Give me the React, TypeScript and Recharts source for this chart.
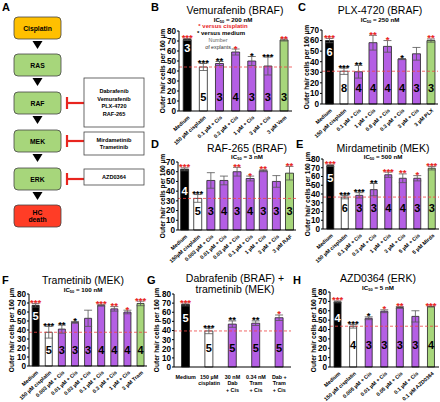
import React from 'react';
import { BarChart, Bar, XAxis, YAxis, ErrorBar, Cell, LabelList, ReferenceLine } from 'recharts';

const FONT = '"Liberation Sans", Arial, sans-serif';
const PURPLE = '#b45fe4';
const GREEN = '#a7d67b';
const RED = '#e8251f';

// B - Vemurafenib
const vemLabels = ['Medium', '150 µM cisplatin', '0.1 µM + Cis', '0.3 µM + Cis', '1 µM + Cis', '3 µM + Cis', '3 µM Vem'];
const vemMeans = [71.5, 44, 47.5, 59, 50, 45, 71];
const vemErr = [1, 3.5, 2, 3, 4.5, 9, 1];
const vemN = [3, 5, 3, 4, 3, 3, 3];
const vemStars = ['***', '***', '**', '*', '*', '***', '**'];
const vemVsCis = [true, false, false, true, false, false, true];

// C - PLX-4720
const plxLabels = ['Medium', '150 µM cisplatin', '0.1 µM + Cis', '1 µM + Cis', '0.6 µM + Cis', '0.3 µM + Cis', '3 µM + Cis', '3 µM PLX'];
const plxMeans = [60, 31, 30.5, 58, 54.5, 42.5, 47.5, 60];
const plxErr = [2, 3, 6, 7, 5.5, 0.5, 6, 1.5];
const plxN = [6, 8, 4, 4, 4, 4, 3, 3];
const plxStars = ['***', '***', '**', '**', '*', '*', '', '**'];
const plxVsCis = [true, false, false, true, true, false, false, true];

// D - RAF-265
const rafLabels = ['Medium', '150µM cisplatin', '0.003 µM + Cis', '0.01 µM + Cis', '0.03 µM + Cis', '0.1 µM + Cis', '1 µM + Cis', '3 µM + Cis', '3 µM RAF'];
const rafMeans = [62.5, 32.5, 51, 51, 60, 53, 61, 50, 58.5];
const rafErr = [1.5, 4, 8, 4.5, 4.5, 2.5, 1, 6, 7];
const rafN = [4, 5, 3, 4, 3, 4, 3, 3, 3];
const rafStars = ['***', '***', '', '', '**', '*', '**', '', '**'];
const rafVsCis = [true, false, false, false, true, true, true, false, true];

// E - Mirdametinib
const mirLabels = ['Medium', '150 µM cisplatin', '0.1 µM + Cis', '0.3 µM + Cis', '1 µM + Cis', '3 µM + Cis', '5 µM + Cis', '5 µM Mirda'];
const mirMeans = [72.5, 36.5, 38.5, 45, 62, 58, 58, 69.5];
const mirErr = [1, 2, 3, 7, 3, 5, 3, 2];
const mirN = [5, 6, 3, 3, 4, 4, 3, 3];
const mirStars = ['***', '***', '***', '**', '***', '**', '*', '***'];
const mirVsCis = [true, false, false, false, true, true, true, true];

// F - Trametinib
const traLabels = ['Medium', '150 µM cisplatin', '0.003 µM + Cis', '0.01 µM + Cis', '0.03 µM + Cis', '0.1 µM + Cis', '0.3 µM + Cis', '1 µM + Cis', '3 µM Tram'];
const traMeans = [67.5, 37.5, 41, 48.5, 53, 67.5, 63.5, 60, 69.5];
const traErr = [2, 6.5, 4.5, 1, 9, 1, 2.5, 2, 2.5];
const traN = [5, 5, 3, 3, 3, 4, 4, 4, 4];
const traStars = ['***', '***', '**', '*', '', '***', '**', '*', '***'];
const traVsCis = [true, false, false, false, false, true, true, true, true];

// G - Dabrafenib + trametinib
const comboLabels = ['Medium', '150 µM\ncisplatin', '30 nM\nDab\n+ Cis', '0.34 nM\nTram\n+ Cis', 'Dab +\nTram\n+ Cis'];
const comboMeans = [68.5, 39.5, 47, 48, 54];
const comboErr = [1.5, 3, 3.5, 2.5, 3];
const comboN = [5, 5, 5, 5, 5];
const comboStars = ['***', '***', '**', '**', '*'];
const comboVsCis = [true, false, false, false, true];

// H - AZD0364
const azdLabels = ['Medium', '150 µM cisplatin', '0.005 µM + Cis', '0.01 µM + Cis', '0.05 µM + Cis', '0.1 µM + Cis', '0.1 µM AZD0364'];
const azdMeans = [69.5, 43.5, 52, 59.5, 63.5, 54, 64.5];
const azdErr = [1, 2, 1.5, 1.5, 1, 6, 0.5];
const azdN = [4, 4, 3, 3, 3, 3, 4];
const azdStars = ['***', '***', '*', '*', '**', '', '***'];
const azdVsCis = [true, false, false, true, true, false, true];

type Panel = {
  labels: string[]; means: number[]; errs: number[]; ns: number[]; stars: string[]; vsCis: boolean[];
  x0: number; x1: number; yTop: number; yBot: number; yMax: number;
  medN: number; restN: number; gap: string; multiline?: boolean;
};

const YW = 30;
const ML = 26;
const MT = 14;
const XH = 56;

function barFill(label: string, i: number) {
  if (i === 0) return '#000';
  if (i === 1) return '#fff';
  return label.includes('Cis') ? PURPLE : GREEN;
}

function XTick(props: any) {
  const { x, y, payload, multiline } = props;
  if (multiline) {
    const lines = String(payload.value).split('\n');
    return (
      <text x={x} y={y + 4} textAnchor="middle" fontSize={5.4} fontWeight={700} fontFamily={FONT} fill="#000">
        {lines.map((l, i) => (
          <tspan key={i} x={x} dy={i === 0 ? 0 : 6.4}>{l}</tspan>
        ))}
      </text>
    );
  }
  const ax = x + 3;
  const ay = y - 1;
  return (
    <text x={ax} y={ay} transform={`rotate(-42 ${ax} ${ay})`} textAnchor="end" fontSize={5.3}
      fontWeight={700} fontFamily={FONT} fill="#000">{payload.value}</text>
  );
}

function SubChart({ p }: { p: Panel }) {
  const data = p.labels.map((name, i) => ({ name, mean: p.means[i], err: p.errs[i], n: p.ns[i], star: p.stars[i] }));
  const plotH = p.yBot - p.yTop;
  const width = p.x1 - p.x0 + YW + ML + 2;
  const height = MT + plotH + XH;
  const ticks: number[] = [];
  for (let t = 0; t <= p.yMax; t += 10) ticks.push(t);

  const nLabel = (lp: any) => {
    const x = Number(lp.x), y = Number(lp.y), w = Number(lp.width), h = Number(lp.height), i = lp.index;
    const ppu = h / p.means[i];
    const pos = i === 0 ? p.medN : p.restN;
    return (
      <text x={x + w / 2} y={y + h - pos * ppu} textAnchor="middle" dominantBaseline="central" fontSize={11}
        fontWeight={700} fontFamily={FONT} fill={i === 0 ? '#fff' : '#000'}>{lp.value}</text>
    );
  };
  const starLabel = (lp: any) => {
    const x = Number(lp.x), y = Number(lp.y), w = Number(lp.width), h = Number(lp.height), i = lp.index;
    const ppu = h / p.means[i];
    return (
      <text x={x + w / 2} y={y - p.errs[i] * ppu + 2.5} textAnchor="middle" fontSize={9.5} fontWeight={700}
        fontFamily={FONT} fill={p.vsCis[i] ? RED : '#000'}>{lp.value}</text>
    );
  };

  return (
    <div style={{ position: 'absolute', left: p.x0 - YW - ML, top: p.yTop - MT }}>
      <BarChart width={width} height={height} data={data} margin={{ top: MT, right: 2, left: ML, bottom: 0 }}
        barCategoryGap={p.gap}>
        <XAxis dataKey="name" height={XH} interval={0} tickLine={false} axisLine={{ stroke: '#000' }}
          tick={(tp: any) => <XTick {...tp} multiline={p.multiline} />} />
        <YAxis width={YW} domain={[0, p.yMax]} ticks={ticks} interval={0} tickSize={2} tickMargin={1}
          axisLine={{ stroke: '#000' }} tickLine={{ stroke: '#000' }}
          tick={{ fontSize: 8.2, fontWeight: 700, fill: '#000', fontFamily: FONT }} />
        <Bar dataKey="mean" isAnimationActive={false} stroke="#222" strokeWidth={0.8}>
          {data.map((d, i) => <Cell key={i} fill={barFill(d.name, i)} />)}
          <ErrorBar dataKey="err" width={4} stroke="#555" strokeWidth={0.8} direction="y" />
          <LabelList dataKey="n" content={nLabel} />
          <LabelList dataKey="star" content={starLabel} />
        </Bar>
        <ReferenceLine y={p.means[1]} stroke="#ee4444" strokeDasharray="3 2" strokeWidth={0.8} />
      </BarChart>
    </div>
  );
}

const panels: { key: string; p: Panel }[] = [
  { key: 'B', p: { labels: vemLabels, means: vemMeans, errs: vemErr, ns: vemN, stars: vemStars, vsCis: vemVsCis, x0: 179, x1: 292, yTop: 31, yBot: 111, yMax: 80, medN: 63, restN: 14, gap: '26%' } },
  { key: 'C', p: { labels: plxLabels, means: plxMeans, errs: plxErr, ns: plxN, stars: plxStars, vsCis: plxVsCis, x0: 322, x1: 438, yTop: 30, yBot: 104, yMax: 70, medN: 49, restN: 15, gap: '24%' } },
  { key: 'D', p: { labels: rafLabels, means: rafMeans, errs: rafErr, ns: rafN, stars: rafStars, vsCis: rafVsCis, x0: 178, x1: 296, yTop: 162, yBot: 230, yMax: 70, medN: 40, restN: 20, gap: '20%' } },
  { key: 'E', p: { labels: mirLabels, means: mirMeans, errs: mirErr, ns: mirN, stars: mirStars, vsCis: mirVsCis, x0: 323, x1: 439, yTop: 159, yBot: 229, yMax: 80, medN: 58, restN: 24, gap: '26%' } },
  { key: 'F', p: { labels: traLabels, means: traMeans, errs: traErr, ns: traN, stars: traStars, vsCis: traVsCis, x0: 29, x1: 147, yTop: 294, yBot: 366, yMax: 80, medN: 56, restN: 18, gap: '24%' } },
  { key: 'G', p: { labels: comboLabels, means: comboMeans, errs: comboErr, ns: comboN, stars: comboStars, vsCis: comboVsCis, x0: 174, x1: 291, yTop: 294, yBot: 367, yMax: 80, medN: 54, restN: 21, gap: '32%', multiline: true } },
  { key: 'H', p: { labels: azdLabels, means: azdMeans, errs: azdErr, ns: azdN, stars: azdStars, vsCis: azdVsCis, x0: 330, x1: 439, yTop: 292, yBot: 367, yMax: 80, medN: 52, restN: 23, gap: '26%' } },
];

const txt = (left: number, top: number, content: React.ReactNode, style: React.CSSProperties = {}) => (
  <div style={{ position: 'absolute', left, top, transform: 'translate(-50%, -50%)', whiteSpace: 'nowrap', fontFamily: FONT, lineHeight: 1, ...style }}>
    {content}
  </div>
);

const letter = (left: number, top: number, s: string) => (
  <div style={{ position: 'absolute', left, top, fontFamily: FONT, fontWeight: 700, fontSize: 11, lineHeight: 1 }}>{s}</div>
);

const ic50 = (x: number, y: number, v: string) =>
  txt(x, y, <span>IC<sub style={{ fontSize: 4, verticalAlign: 'baseline', position: 'relative', top: 1 }}>50</sub> = {v}</span>, { fontSize: 6.2, fontWeight: 700 });

const title = (x: number, y: number, s: string) => txt(x, y, s, { fontSize: 10.5 });

const ylab = (x: number, y: number) =>
  txt(x, y, 'Outer hair cells per 160 µm', { fontSize: 6.6, fontWeight: 700, transform: 'translate(-50%, -50%) rotate(-90deg)' });

function Pathway() {
  const boxes = [
    { label: ['Cisplatin'], y: 17, fill: '#ffc000' },
    { label: ['RAS'], y: 54, fill: GREEN },
    { label: ['RAF'], y: 92, fill: GREEN },
    { label: ['MEK'], y: 130, fill: GREEN },
    { label: ['ERK'], y: 168, fill: GREEN },
    { label: ['HC', 'death'], y: 205, fill: '#ff3d26' },
  ];
  const inhib = [
    { y: 78, h: 49, cy: 103, names: ['Dabrafenib', 'Vemurafenib', 'PLX-4720', 'RAF-265'] },
    { y: 132, h: 23, cy: 141, names: ['Mirdametinib', 'Trametinib'] },
    { y: 169, h: 16, cy: 179, names: ['AZD0364'] },
  ];
  return (
    <svg width={150} height={235} style={{ position: 'absolute', left: 0, top: 0 }} fontFamily={FONT}>
      {boxes.map((b, i) => (
        <g key={i}>
          <rect x={14} y={b.y} width={47} height={22} rx={4} fill={b.fill} stroke="#444" strokeWidth={0.8} />
          {b.label.map((l, j) => (
            <text key={j} x={37.5} y={b.y + 11 + (j - (b.label.length - 1) / 2) * 7.5} textAnchor="middle" dominantBaseline="central"
              fontSize={6.8} fontWeight={700} fill="#000">{l}</text>
          ))}
          {i < boxes.length - 1 && (
            <polygon points={`${32.5},${b.y + 24} ${42.5},${b.y + 24} ${37.5},${b.y + 32}`} fill="#000" />
          )}
        </g>
      ))}
      {inhib.map((b, i) => (
        <g key={i}>
          <line x1={67} y1={b.cy - 6} x2={67} y2={b.cy + 6} stroke={RED} strokeWidth={2.2} />
          <line x1={67} y1={b.cy} x2={84} y2={b.cy} stroke={RED} strokeWidth={2.2} />
          <rect x={84} y={b.y} width={60} height={b.h} fill="#fff" stroke="#444" strokeWidth={0.8} />
          {b.names.map((n, j) => (
            <text key={j} x={114} y={b.y + b.h / 2 + (j - (b.names.length - 1) / 2) * 7.6} textAnchor="middle" dominantBaseline="central"
              fontSize={5.6} fontWeight={700} fill="#000">{n}</text>
          ))}
        </g>
      ))}
    </svg>
  );
}

export default function App() {
  return (
    <div style={{ position: 'absolute', left: 0, top: 0, width: 440, height: 402, background: '#fff', overflow: 'hidden' }}>
      <style>{'.recharts-surface { overflow: visible; } .recharts-wrapper { overflow: visible; }'}</style>
      <Pathway />
      {panels.map(({ key, p }) => <SubChart key={key} p={p} />)}

      {letter(2, 2, 'A')}
      {letter(151, 2, 'B')}
      {letter(298, 2, 'C')}
      {letter(151, 139, 'D')}
      {letter(296, 139, 'E')}
      {letter(2, 275, 'F')}
      {letter(147, 275, 'G')}
      {letter(293, 275, 'H')}

      {title(235, 10, 'Vemurafenib (BRAF)')}
      {ic50(233, 20, '200 nM')}
      {txt(223, 26, '* versus cisplatin', { fontSize: 6, fontWeight: 700, color: RED })}
      {txt(221, 33, '* versus medium', { fontSize: 6, fontWeight: 700, color: '#000' })}
      {txt(218, 41, 'Number', { fontSize: 5.3, color: '#666' })}
      {txt(218, 48, 'of explants', { fontSize: 5.3, color: '#333' })}

      {title(380, 10, 'PLX-4720 (BRAF)')}
      {ic50(380, 20, '250 nM')}

      {title(247, 148, 'RAF-265 (BRAF)')}
      {ic50(247, 157, '3 nM')}

      {title(383, 148, 'Mirdametinib (MEK)')}
      {ic50(383, 157, '500 nM')}

      {title(83, 280, 'Trametinib (MEK)')}
      {ic50(83, 290, '100 nM')}

      {title(235, 278, 'Dabrafenib (BRAF) +')}
      {title(235, 289, 'trametinib (MEK)')}

      {title(378, 278, 'AZD0364 (ERK)')}
      {ic50(378, 288, '5 nM')}

      {ylab(163, 71)}
      {ylab(307, 67)}
      {ylab(163, 196)}
      {ylab(308, 194)}
      {ylab(12, 330)}
      {ylab(157, 330)}
      {ylab(314, 330)}
    </div>
  );
}
